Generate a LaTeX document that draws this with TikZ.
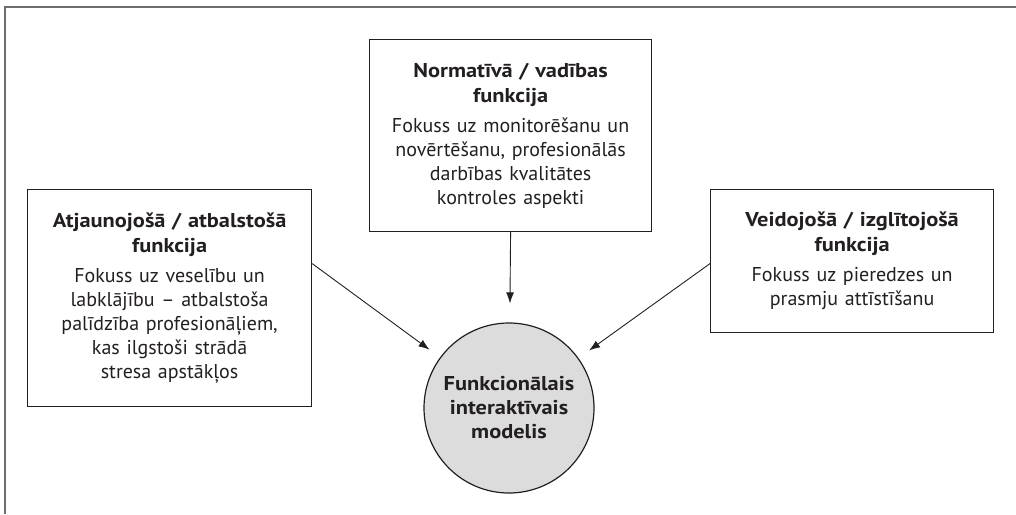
\documentclass[tikz,border=0pt]{standalone}
\usepackage{fontspec}
\setmainfont{PT Sans}[BoldFeatures={FakeStretch=1.12}]
\usetikzlibrary{arrows.meta,calc}
\definecolor{ink}{HTML}{231F20}
\definecolor{framegray}{HTML}{6E6E6E}
\definecolor{discfill}{HTML}{DCDCDD}
\tikzset{
  fnbox/.style={draw=ink, line width=1.2pt, align=center, inner sep=0pt,
    anchor=north west, font=\fontsize{20}{24}\selectfont, text=ink},
  disc/.style={circle, draw=ink, line width=1.2pt, fill=discfill, inner sep=0pt,
    minimum size=170pt, align=center,
    font=\fontsize{20}{24}\selectfont\bfseries, text=ink},
  flow/.style={draw=ink, line width=0.9pt, -{Latex[length=11pt,width=8pt]}},
}
\newcommand{\fntitle}[2]{{\bfseries #1\\[1pt]#2}\\[6pt]}
\begin{document}
\begin{tikzpicture}[x=1pt, y=-1pt]
  \useasboundingbox (0,0) rectangle (1016,514);
  % page frame (top and left rules)
  \draw[framegray, line width=2pt] (1016,7) -- (5,7) -- (5,514);

  % the three function boxes
  \node[fnbox, minimum width=282pt, minimum height=192pt, text width=270pt]
    (norm) at (369,39)
    {\fntitle{Normatīvā / vadības}{funkcija}
     Fokuss uz monitorēšanu un\\novērtēšanu, profesionālās\\darbības kvalitātes\\kontroles aspekti};
  \node[fnbox, minimum width=284pt, minimum height=217pt, text width=276pt]
    (supp) at (27,189)
    {\fntitle{Atjaunojošā / atbalstošā}{funkcija}
     Fokuss uz veselību un\\labklājību – atbalstoša\\palīdzība profesionāļiem,\\kas ilgstoši strādā\\stresa apstākļos};
  \node[fnbox, minimum width=283pt, minimum height=143pt, text width=275pt]
    (edu) at (710,189)
    {\fntitle{Veidojošā / izglītojošā}{funkcija}
     Fokuss uz pieredzes un\\prasmju attīstīšanu};

  % central model
  \node[disc] (model) at (509,408) {Funkcionālais\\interaktīvais\\modelis};

  % connectors
  \draw[flow, shorten >=19pt] (norm.south) -- (model);
  \draw[flow, shorten >=13pt] ([yshift=34.5pt]supp.east) -- (model);
  \draw[flow, shorten >=13pt] ([yshift=-2.5pt]edu.west) -- (model);
\end{tikzpicture}
\end{document}
